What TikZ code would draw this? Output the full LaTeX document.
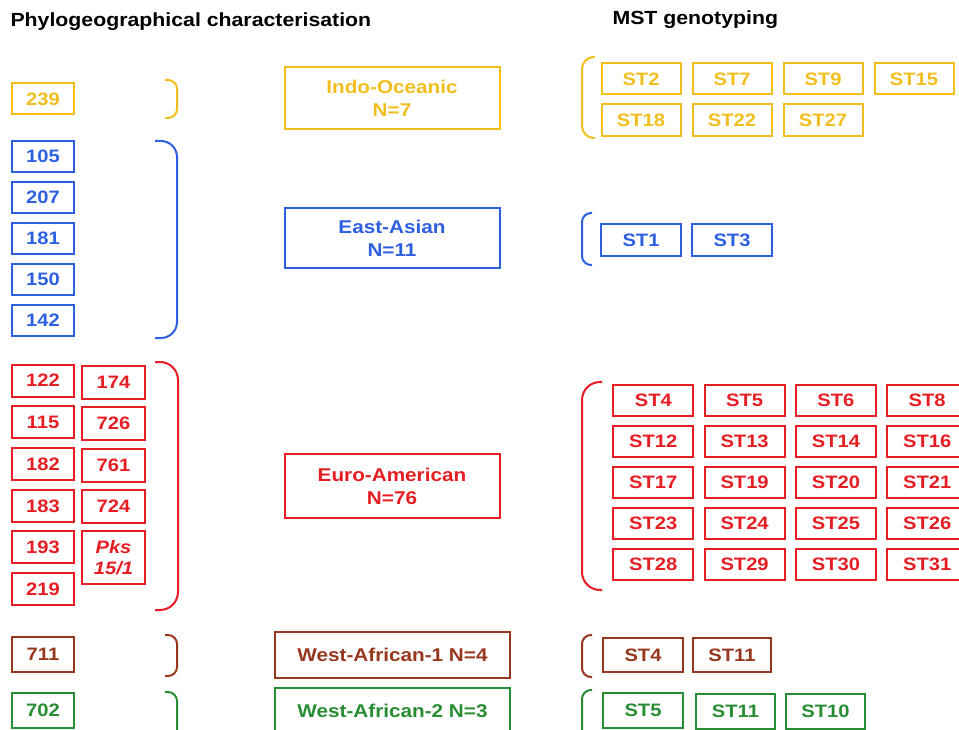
\documentclass[tikz,border=0pt]{standalone}
\usepackage{fontspec}
\setmainfont{Liberation Sans}[FakeStretch=1.12]
\usetikzlibrary{positioning}
\definecolor{indoyellow}{RGB}{242,190,30}
\definecolor{asiablue}{RGB}{45,95,225}
\definecolor{eurored}{RGB}{230,30,35}
\definecolor{wafbrown}{RGB}{150,55,30}
\definecolor{wafgreen}{RGB}{40,140,50}

\begin{document}
\begin{tikzpicture}[x=1pt, y=-1pt,
    box/.style={draw, line width=2pt, inner sep=0pt, minimum height=31pt,
      font=\bfseries\fontsize{18}{20}\selectfont},
    idbox/.style={box, minimum width=62pt},
    stbox/.style={box, minimum width=79pt},
    groupbox/.style={box, minimum width=215pt, minimum height=62pt, align=center,
      font=\bfseries\fontsize{18.5}{23}\selectfont},
    brace/.style={line width=2pt, rounded corners=9pt},
    title/.style={anchor=west, font=\bfseries\fontsize{19}{21}\selectfont}]
    \useasboundingbox (0,0) rectangle (959,730);
    \node[title] (phylo) at (7,22) {Phylogeographical characterisation};
    \node[title] (mst) at (609,20) {MST genotyping};

    % Indo-Oceanic
    \node[idbox, indoyellow] (n239) at (43,99) {239};
    \draw[brace, indoyellow] (165,80) -- (177,80) -- (177,118) -- (165,118);
    \node[groupbox, indoyellow] (indo) at (392,98) {Indo-Oceanic\\N=7};
    \draw[brace, indoyellow, rounded corners=12pt] (595,57) -- (582,57) -- (582,138) -- (595,138);
    \foreach \lbl [count=\i] in {ST2,ST7,ST9,ST15}
      \node[stbox, indoyellow] (indo\i) at (550+91*\i,79) {\lbl};
    \foreach \lbl [count=\i] in {ST18,ST22,ST27}
      \node[stbox, indoyellow, minimum height=32pt] (indob\i) at (550+91*\i,120) {\lbl};

    % East-Asian
    \foreach \lbl [count=\i] in {105,207,181,150,142}
      \node[idbox, asiablue] (asia\i) at (43,115.5+41*\i) {\lbl};
    \draw[brace, asiablue, rounded corners=16pt] (155,141) -- (177,141) -- (177,338) -- (155,338);
    \node[groupbox, asiablue, minimum height=60pt] (east) at (392,238) {East-Asian\\N=11};
    \draw[brace, asiablue] (592,213) -- (582,213) -- (582,265) -- (592,265);
    \node[stbox, asiablue, minimum width=80pt, minimum height=32pt] (st1) at (641,240) {ST1};
    \node[stbox, asiablue, minimum width=80pt, minimum height=32pt] (st3) at (732,240) {ST3};

    % Euro-American
    \foreach \lbl/\y [count=\i] in {122/380.5,115/422,182/464,183/506,193/547,219/589}
      \node[idbox, eurored, minimum height=32pt] (euro\i) at (43,\y) {\lbl};
    \foreach \lbl/\y [count=\i] in {174/382,726/423.5,761/465,724/506}
      \node[idbox, eurored, minimum width=63pt, minimum height=33pt] (eurob\i) at (113.5,\y) {\lbl};
    \node[idbox, eurored, minimum width=63pt, minimum height=53pt, align=center,
      font=\bfseries\itshape\fontsize{18}{21}\selectfont] (pks) at (113.5,557.5) {Pks\\15/1};
    \draw[brace, eurored, rounded corners=18pt] (155,362) -- (178,362) -- (178,610) -- (155,610);
    \node[groupbox, eurored, minimum height=64pt] (euro) at (392,486) {Euro-American\\N=76};
    \draw[brace, eurored, rounded corners=18pt] (602,382) -- (582,382) -- (582,590) -- (602,590);
    \foreach \row/\y [count=\r] in {{ST4,ST5,ST6,ST8}/400.5, {ST12,ST13,ST14,ST16}/441.5,
        {ST17,ST19,ST20,ST21}/482.5, {ST23,ST24,ST25,ST26}/523.5, {ST28,ST29,ST30,ST31}/564}
      \foreach \lbl [count=\c] in \row
        \node[stbox, eurored, minimum width=80pt] (st\r-\c) at (562+91.3*\c,\y) {\lbl};

    % West-African-1
    \node[idbox, wafbrown, minimum height=35pt] (n711) at (43,654.5) {711};
    \draw[brace, wafbrown] (165,635) -- (177,635) -- (177,676) -- (165,676);
    \node[groupbox, wafbrown, minimum width=235pt, minimum height=46pt] (waf1) at (392.5,655) {West-African-1 N=4};
    \draw[brace, wafbrown] (592,635) -- (582,635) -- (582,677) -- (592,677);
    \node[stbox, wafbrown, minimum width=80pt, minimum height=34pt] (waf1a) at (643,655) {ST4};
    \node[stbox, wafbrown, minimum width=78pt, minimum height=34pt] (waf1b) at (732,655) {ST11};

    % West-African-2
    \node[idbox, wafgreen, minimum height=35pt] (n702) at (43,710.5) {702};
    \draw[brace, wafgreen] (165,692) -- (177,692) -- (177,745);
    \node[groupbox, wafgreen, minimum width=235pt, minimum height=46pt] (waf2) at (392.5,711) {West-African-2 N=3};
    \draw[brace, wafgreen] (592,690) -- (582,690) -- (582,745);
    \node[stbox, wafgreen, minimum width=80pt, minimum height=35pt] (waf2a) at (643,710.5) {ST5};
    \node[stbox, wafgreen, minimum width=79pt, minimum height=35pt] (waf2b) at (735.5,711) {ST11};
    \node[stbox, wafgreen, minimum width=79pt, minimum height=35pt] (waf2c) at (825.5,711) {ST10};
\end{tikzpicture}
\end{document}
